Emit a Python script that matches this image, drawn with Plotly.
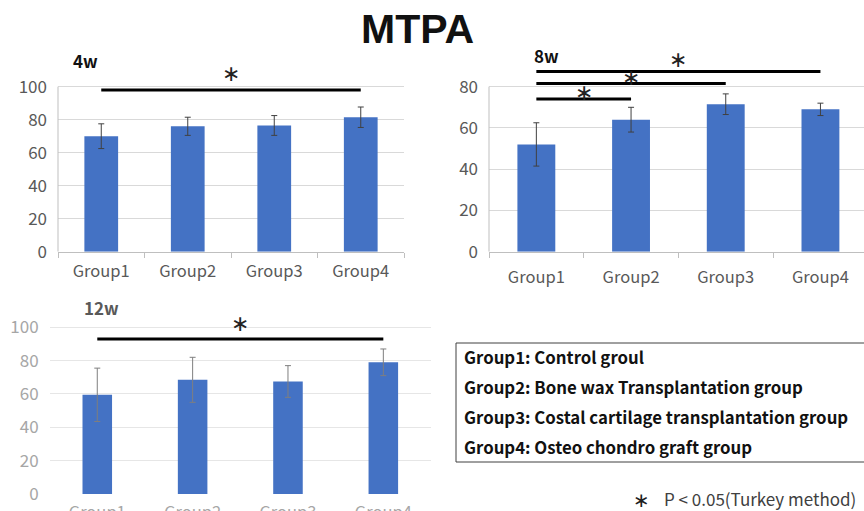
import plotly.graph_objects as go

groups = ["Group1", "Group2", "Group3", "Group4"]

mean_4w = [70, 76, 76.5, 81.5]
sd_4w = [7.5, 5.5, 6, 6.2]

mean_8w = [52, 64, 71.5, 69]
sd_8w = [10.5, 6, 5, 3]

mean_12w = [59.5, 68.5, 67.5, 79]
sd_12w = [16, 13.5, 9.5, 8]

# significance brackets: (from group, to group, line level, star level)
sig_4w = [("Group1", "Group4", 98, 108)]
sig_8w = [("Group1", "Group2", 74, 77), ("Group1", "Group3", 81.5, 84.5), ("Group1", "Group4", 87.3, 93)]
sig_12w = [("Group1", "Group4", 93, 102.5)]

legend_lines = [
    "Group1: Control groul",
    "Group2: Bone wax Transplantation group",
    "Group3: Costal cartilage transplantation group",
    "Group4: Osteo chondro graft group",
]

W, H = 864, 511
def px(x):
    return x / W
def py(y):
    return 1 - y / H

BLUE = "#4472C4"
TICKFONT = "Noto Sans CJK JP, Open Sans, sans-serif"
BOLDFONT = "Noto Sans CJK JP, Liberation Sans, sans-serif"
STARFONT = "DejaVu Sans, sans-serif"

fig = go.Figure()
panels = [
    dict(ax="", mean=mean_4w, sd=sd_4w, width=0.39, errc="#404040"),
    dict(ax="2", mean=mean_8w, sd=sd_8w, width=0.40, errc="#404040"),
    dict(ax="3", mean=mean_12w, sd=sd_12w, width=0.31, errc="#7f7f7f"),
]
for p in panels:
    fig.add_trace(go.Bar(
        x=groups, y=p["mean"], width=p["width"],
        marker=dict(color=BLUE, line=dict(width=0)),
        error_y=dict(type="data", array=p["sd"], visible=True,
                     color=p["errc"], thickness=1, width=3),
        xaxis="x" + p["ax"], yaxis="y" + p["ax"], showlegend=False, hoverinfo="skip",
    ))

shapes = []
annotations = []

def add_sig(sigs, ax):
    for g0, g1, lvl, star in sigs:
        shapes.append(dict(type="line", xref="x" + ax, yref="y" + ax,
                           x0=g0, x1=g1, y0=lvl, y1=lvl, line=dict(color="black", width=3)))
        annotations.append(dict(xref="x" + ax, yref="y" + ax,
                                x=(groups.index(g0) + groups.index(g1)) / 2, y=star,
                                xanchor="center", yanchor="middle", text="∗", showarrow=False,
                                font=dict(family=STARFONT, size=22, color="#222222")))

add_sig(sig_4w, "")
add_sig(sig_8w, "2")
add_sig(sig_12w, "3")

# left axis lines for panels 1 and 2
shapes.append(dict(type="line", xref="paper", yref="y", x0=px(58), x1=px(58), y0=0, y1=100,
                   line=dict(color="#bfbfbf", width=1)))
shapes.append(dict(type="line", xref="paper", yref="y2", x0=px(489), x1=px(489), y0=0, y1=80,
                   line=dict(color="#bfbfbf", width=1)))

# legend box
shapes.append(dict(type="rect", xref="paper", yref="paper",
                   x0=px(456), x1=px(880), y0=py(462), y1=py(343),
                   line=dict(color="#404040", width=1), fillcolor="rgba(0,0,0,0)"))
for i, t in enumerate(legend_lines):
    annotations.append(dict(xref="paper", yref="paper", x=px(462), y=py(357 + 30 * i),
                            xanchor="left", yanchor="middle", text="<b>" + t + "</b>",
                            showarrow=False, font=dict(family=BOLDFONT, size=16.8, color="#111111")))

# footnote
annotations.append(dict(xref="paper", yref="paper", x=px(641), y=py(500),
                        xanchor="center", yanchor="middle", text="∗", showarrow=False,
                        font=dict(family=STARFONT, size=20, color="#202020")))
annotations.append(dict(xref="paper", yref="paper", x=px(662), y=py(498),
                        xanchor="left", yanchor="middle", text="P < 0.05(Turkey method)", showarrow=False,
                        font=dict(family=TICKFONT, size=17, color="#404040")))

# title and panel labels
annotations.append(dict(xref="paper", yref="paper", x=px(417), y=py(29),
                        xanchor="center", yanchor="middle", text="<b>MTPA</b>", showarrow=False,
                        font=dict(family="Liberation Sans, Arial, sans-serif", size=41, color="#111111")))
annotations.append(dict(xref="paper", yref="paper", x=px(71), y=py(60), xanchor="left", yanchor="middle",
                        text="<b>4w</b>", showarrow=False, font=dict(family=BOLDFONT, size=17, color="#111111")))
annotations.append(dict(xref="paper", yref="paper", x=px(532), y=py(55), xanchor="left", yanchor="middle",
                        text="<b>8w</b>", showarrow=False, font=dict(family=BOLDFONT, size=17, color="#111111")))
annotations.append(dict(xref="paper", yref="paper", x=px(82), y=py(307), xanchor="left", yanchor="middle",
                        text="<b>12w</b>", showarrow=False, font=dict(family=BOLDFONT, size=17, color="#595959")))

xcommon = dict(type="category", showgrid=False, zeroline=False, fixedrange=True, automargin=False,
               tickfont=dict(family=TICKFONT, size=16.5, color="#595959"))
ycommon = dict(showgrid=True, gridcolor="#d9d9d9", gridwidth=1, zeroline=False, fixedrange=True,
               automargin=False, showline=False, ticks="",
               tickfont=dict(family=TICKFONT, size=17, color="#595959"))

fig.update_layout(
    width=W, height=H, margin=dict(l=0, r=0, t=0, b=0, pad=0, autoexpand=False),
    paper_bgcolor="white", plot_bgcolor="white", bargap=0.6,
    xaxis=dict(**xcommon, domain=[px(58), px(404)], anchor="y", range=[-0.5, 3.5],
               showline=True, linecolor="#bfbfbf", ticks="outside", tickson="boundaries",
               ticklen=5, tickcolor="#bfbfbf", ticklabelstandoff=4),
    yaxis=dict(**ycommon, domain=[py(251.7), py(66.9)], anchor="x", range=[0, 112],
               tickvals=[0, 20, 40, 60, 80, 100], ticklabelstandoff=10),
    xaxis2=dict(**xcommon, domain=[px(489), 1], anchor="y2", range=[-0.5, 3.46],
                showline=True, linecolor="#bfbfbf", ticks="outside", tickson="boundaries",
                ticklen=5, tickcolor="#bfbfbf", ticklabelstandoff=10),
    yaxis2=dict(**ycommon, domain=[py(251.7), py(51.6)], anchor="x2", range=[0, 97],
                tickvals=[0, 20, 40, 60, 80], ticklabelstandoff=10),
    xaxis3=dict(**{**xcommon, "tickfont": dict(family=TICKFONT, size=16.5, color="#a6a6a6")},
                domain=[px(49.6), px(431)], anchor="y3", range=[-0.5, 3.5],
                showline=False, ticks="", ticklabelstandoff=6),
    yaxis3=dict(**{**ycommon, "tickfont": dict(family=TICKFONT, size=17, color="#a6a6a6"),
                   "gridcolor": "#e6e6e6"},
                domain=[py(494), py(317.3)], anchor="x3", range=[0, 106],
                tickvals=[0, 20, 40, 60, 80, 100], ticklabelstandoff=10),
    shapes=shapes, annotations=annotations,
)

fig.write_html("out.html", config={"displayModeBar": False, "staticPlot": True},
               post_script="document.body.style.margin='0';")
